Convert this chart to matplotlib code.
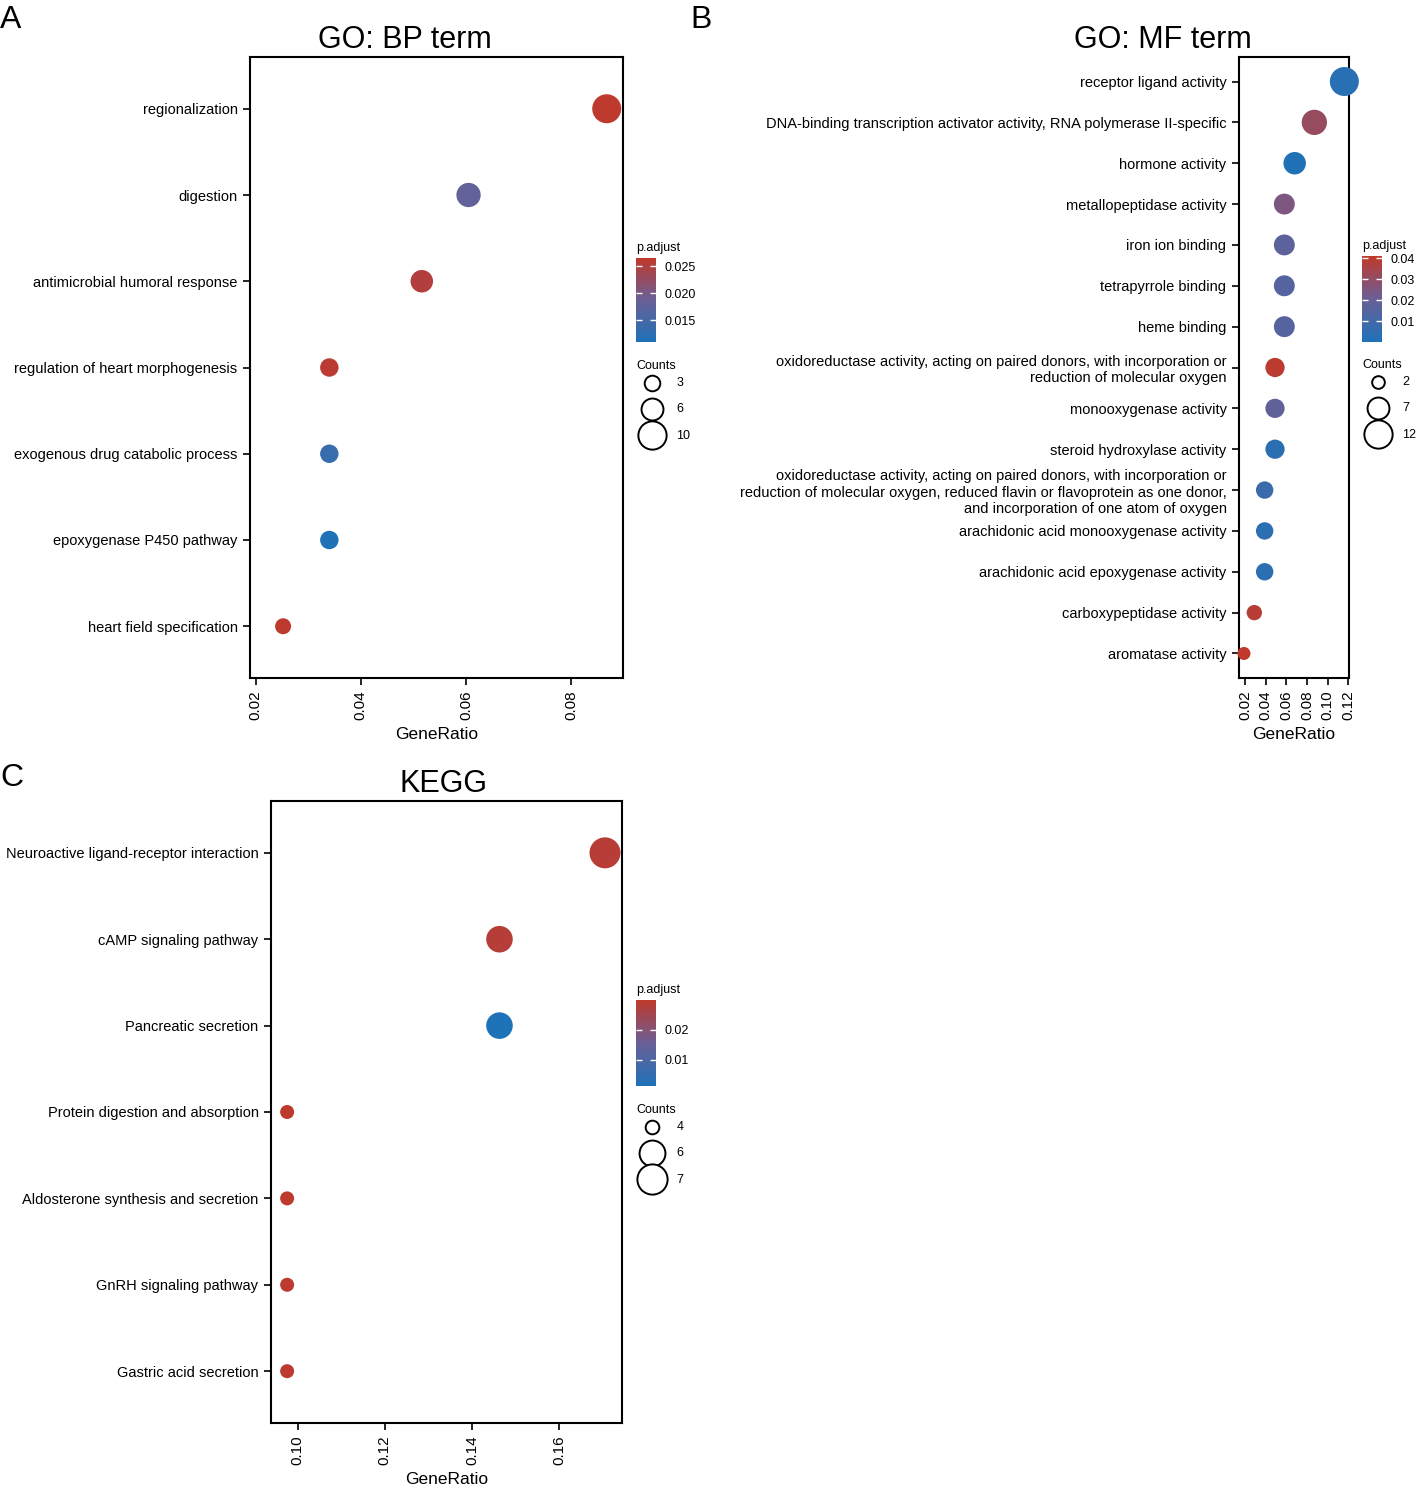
import numpy as np
import matplotlib.pyplot as plt
from matplotlib.colors import LinearSegmentedColormap, Normalize
from matplotlib.cm import ScalarMappable

plt.rcParams['font.family'] = ['Liberation Sans', 'DejaVu Sans']

W, H = 1416, 1485

# ---- data: GO BP ----
bp_terms = ['regionalization', 'digestion', 'antimicrobial humoral response',
            'regulation of heart morphogenesis', 'exogenous drug catabolic process',
            'epoxygenase P450 pathway', 'heart field specification']
bp_ratio = [0.0868, 0.0605, 0.0516, 0.0340, 0.0340, 0.0340, 0.0252]
bp_count = [10, 7, 6, 4, 4, 4, 3]
bp_padj = [0.0263, 0.0180, 0.0252, 0.0260, 0.0136, 0.0112, 0.0262]

# ---- data: GO MF ----
mf_terms = ['receptor ligand activity',
            'DNA-binding transcription activator activity, RNA polymerase II-specific',
            'hormone activity',
            'metallopeptidase activity',
            'iron ion binding',
            'tetrapyrrole binding',
            'heme binding',
            'oxidoreductase activity, acting on paired donors, with incorporation or\nreduction of molecular oxygen',
            'monooxygenase activity',
            'steroid hydroxylase activity',
            'oxidoreductase activity, acting on paired donors, with incorporation or\n'
            'reduction of molecular oxygen, reduced flavin or flavoprotein as one donor,\n'
            'and incorporation of one atom of oxygen',
            'arachidonic acid monooxygenase activity',
            'arachidonic acid epoxygenase activity',
            'carboxypeptidase activity',
            'aromatase activity']
mf_ratio = [0.116, 0.087, 0.068, 0.058, 0.058, 0.058, 0.058, 0.049, 0.049, 0.049,
            0.039, 0.039, 0.039, 0.029, 0.019]
mf_count = [12, 9, 7, 6, 6, 6, 6, 5, 5, 5, 4, 4, 4, 3, 2]
mf_padj = [0.003, 0.031, 0.001, 0.025, 0.017, 0.015, 0.015, 0.040, 0.018, 0.004,
           0.008, 0.004, 0.004, 0.039, 0.041]

# ---- data: KEGG ----
kegg_terms = ['Neuroactive ligand-receptor interaction', 'cAMP signaling pathway',
              'Pancreatic secretion', 'Protein digestion and absorption',
              'Aldosterone synthesis and secretion', 'GnRH signaling pathway',
              'Gastric acid secretion']
kegg_ratio = [0.1705, 0.1463, 0.1463, 0.0976, 0.0976, 0.0976, 0.0976]
kegg_count = [7, 6, 6, 4, 4, 4, 4]
kegg_padj = [0.0285, 0.0280, 0.0013, 0.0295, 0.0295, 0.0295, 0.0295]

cmap = LinearSegmentedColormap.from_list(
    'padj', [(0.0, '#1E72B8'), (0.5, '#6A5F96'), (1.0, '#C0392B')])


def rect(l, t, r, b):
    return [l / W, 1 - b / H, (r - l) / W, (b - t) / H]


def dot_size(c, cmin, cmax, rmin, rmax):
    # area grows linearly with count, radius given in pixels
    c = np.asarray(c, dtype=float)
    r = np.sqrt(rmin ** 2 + (c - cmin) / (cmax - cmin) * (rmax ** 2 - rmin ** 2))
    return (2 * r * 0.72) ** 2


def dot_panel(fig, box, terms, ratio, count, padj, xlim, xticks, title, title_x,
              cbar_box, cticks, vlim, size_args, leg_counts, leg_top):
    ax = fig.add_axes(rect(*box))
    y = np.arange(len(terms))
    norm = Normalize(*vlim)
    ax.scatter(ratio, y, s=dot_size(count, *size_args), c=padj, cmap=cmap,
               norm=norm, edgecolors='none', zorder=3, clip_on=False)
    ax.set_ylim(len(terms) - 1 + 0.6, -0.6)
    ax.set_xlim(*xlim)
    ax.set_yticks(y)
    ax.set_yticklabels(terms, fontsize=10.5)
    ax.set_xticks(xticks)
    ax.set_xticklabels(['%.2f' % t for t in xticks], rotation=90, fontsize=11)
    ax.tick_params(length=5, width=1.2, pad=4)
    for s in ax.spines.values():
        s.set_linewidth(1.5)
    ax.set_xlabel('GeneRatio', fontsize=12.5, labelpad=5)
    fig.text(title_x / W, 1 - (box[1] - 9) / H, title, fontsize=22,
             ha='center', va='baseline')

    # colour bar
    cax = fig.add_axes(rect(*cbar_box))
    cb = fig.colorbar(ScalarMappable(norm=norm, cmap=cmap), cax=cax)
    cb.outline.set_visible(False)
    cb.set_ticks(cticks)
    cax.tick_params(direction='in', color='white', length=4, width=1,
                    left=True, right=True, labelsize=9, pad=6)
    fig.text(cbar_box[0] / W, 1 - (cbar_box[1] - 4) / H, 'p.adjust',
             fontsize=9, ha='left', va='bottom')

    # size legend
    fig.text(cbar_box[0] / W, 1 - leg_top / H, 'Counts', fontsize=9,
             ha='left', va='center')
    handles = [ax.scatter([], [], s=dot_size(c, *size_args) * 0.95, facecolor='white',
                          edgecolor='black', linewidth=1.4) for c in leg_counts]
    ax.legend(handles, [str(c) for c in leg_counts],
              loc='upper left',
              bbox_to_anchor=((cbar_box[0] - 1) / W, 1 - (leg_top + 11) / H),
              bbox_transform=fig.transFigure, frameon=False, fontsize=9,
              borderpad=0, borderaxespad=0, labelspacing=1.15,
              handletextpad=0.6, handlelength=2.7)
    return ax


fig = plt.figure(figsize=(W / 100, H / 100), dpi=100)

dot_panel(fig, (250, 57, 623, 678), bp_terms, bp_ratio, bp_count, bp_padj,
          (0.0189, 0.0899), [0.02, 0.04, 0.06, 0.08], 'GO: BP term', 405,
          (636, 258, 656, 342), [0.015, 0.020, 0.025], (0.0110, 0.0265),
          (3, 10, 8, 14.5), [3, 6, 10], 366)

dot_panel(fig, (1239, 57, 1349, 678), mf_terms, mf_ratio, mf_count, mf_padj,
          (0.0142, 0.1205), [0.02, 0.04, 0.06, 0.08, 0.10, 0.12], 'GO: MF term', 1163,
          (1362, 256, 1382, 342), [0.01, 0.02, 0.03, 0.04], (0.0001, 0.041),
          (2, 12, 6.5, 14.5), [2, 7, 12], 365)

dot_panel(fig, (271, 801, 622, 1423), kegg_terms, kegg_ratio, kegg_count, kegg_padj,
          (0.0939, 0.1744), [0.10, 0.12, 0.14, 0.16], 'KEGG', 444,
          (636, 1000, 656, 1086), [0.01, 0.02], (0.0013, 0.0300),
          (4, 7, 7, 15.5), [4, 6, 7], 1110)

fig.text(0 / W, 1 - 28 / H, 'A', fontsize=23, ha='left', va='baseline')
fig.text(690 / W, 1 - 28 / H, 'B', fontsize=23, ha='left', va='baseline')
fig.text(0 / W, 1 - 786 / H, 'C', fontsize=23, ha='left', va='baseline')

fig.savefig('out.png', dpi=100)
